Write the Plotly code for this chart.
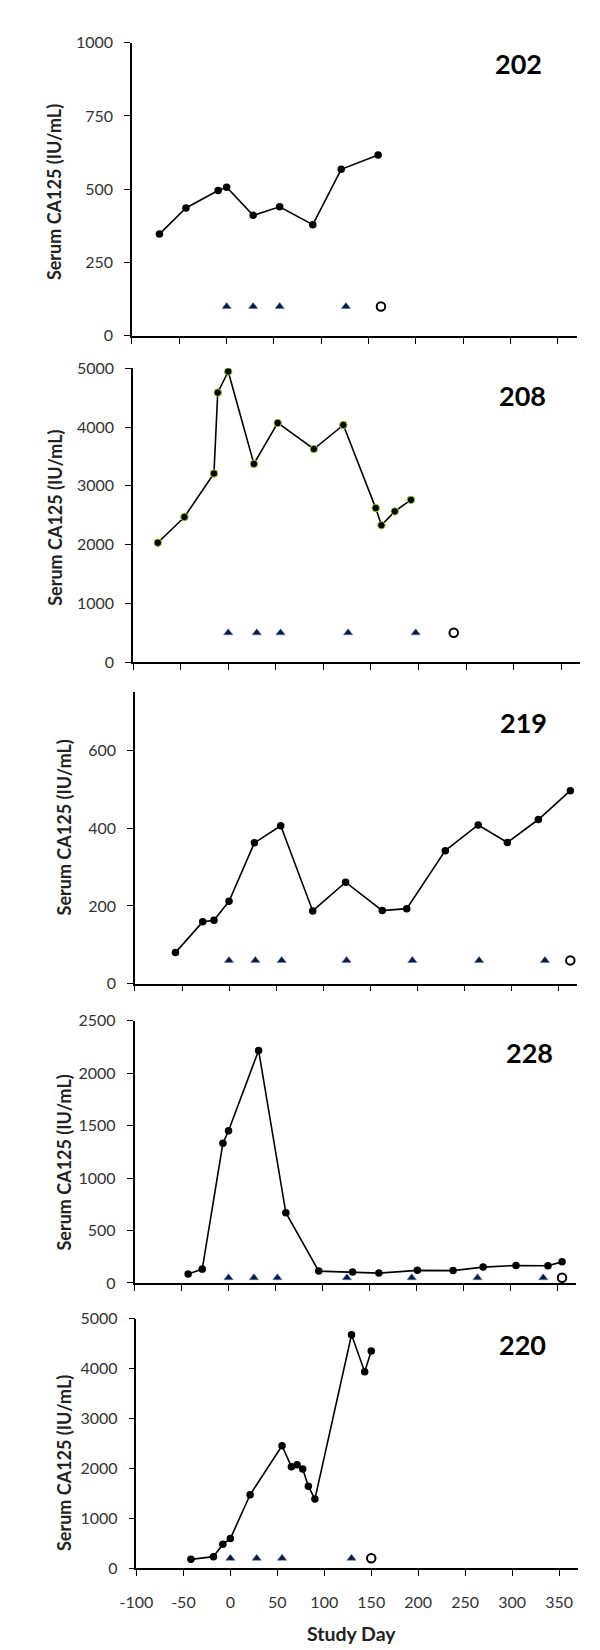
import plotly.graph_objects as go

# ---------------- data ----------------
patients = ["202", "208", "219", "228", "220"]

day_202 = [-71, -43, -9, 0, 28, 56, 91, 121, 160]
ca_202 = [347, 436, 496, 507, 411, 440, 379, 568, 617]
trt_day_202 = [0, 28, 56, 126]
trt_val_202 = [100, 100, 100, 100]
end_day_202 = [163]
end_val_202 = [100]

day_208 = [-74, -46, -15, -11, 0, 27, 52, 90, 121, 155, 161, 175, 192]
ca_208 = [2032, 2470, 3210, 4585, 4944, 3373, 4069, 3626, 4035, 2621, 2330, 2565, 2761]
trt_day_208 = [0, 30, 55, 126, 197]
trt_val_208 = [500, 500, 500, 500, 500]
end_day_208 = [237]
end_val_208 = [500]

day_219 = [-57, -28, -16, 0, 27, 55, 89, 124, 163, 189, 230, 265, 296, 329, 363]
ca_219 = [80, 159, 163, 212, 362, 406, 187, 261, 188, 193, 342, 408, 363, 422, 496]
trt_day_219 = [0, 28, 56, 125, 195, 266, 336]
trt_val_219 = [60, 60, 60, 60, 60, 60, 60]
end_day_219 = [363]
end_val_219 = [60]

day_228 = [-43, -28, -6, 0, 32, 61, 96, 132, 160, 201, 239, 271, 306, 340, 355]
ca_228 = [85, 132, 1331, 1450, 2216, 669, 113, 104, 94, 120, 118, 151, 167, 164, 201]
trt_day_228 = [0, 27, 52, 126, 195, 265, 335]
trt_val_228 = [50, 50, 50, 50, 50, 50, 50]
end_day_228 = [355]
end_val_228 = [50]

day_220 = [-42, -18, -8, 0, 21, 55, 65, 71, 77, 83, 90, 129, 143, 150]
ca_220 = [178, 232, 483, 594, 1473, 2455, 2034, 2073, 1988, 1644, 1386, 4681, 3941, 4356]
trt_day_220 = [0, 28, 55, 129]
trt_val_220 = [200, 200, 200, 200]
end_day_220 = [150]
end_val_220 = [200]

y_max = [1000, 5000, 750, 2500, 5000]
y_ticks = [[0, 250, 500, 750, 1000],
           [0, 1000, 2000, 3000, 4000, 5000],
           [0, 200, 400, 600],
           [0, 500, 1000, 1500, 2000, 2500],
           [0, 1000, 2000, 3000, 4000, 5000]]
x_ticks = [-100, -50, 0, 50, 100, 150, 200, 250, 300, 350]
x_title = "Study Day"
y_title = "Serum CA125 (IU/mL)"

series = [
    (day_202, ca_202, trt_day_202, trt_val_202, end_day_202, end_val_202),
    (day_208, ca_208, trt_day_208, trt_val_208, end_day_208, end_val_208),
    (day_219, ca_219, trt_day_219, trt_val_219, end_day_219, end_val_219),
    (day_228, ca_228, trt_day_228, trt_val_228, end_day_228, end_val_228),
    (day_220, ca_220, trt_day_220, trt_val_220, end_day_220, end_val_220),
]

# ---------------- layout geometry (pixels) ----------------
W, H = 600, 1650
x_px = [(110.1, 568.0), (111.2, 571.5), (113.2, 568.0), (112.8, 567.2), (114.7, 569.0)]
y_px = [(25.0, 321.5), (354.3, 651.7), (681.7, 977.0), (1014.3, 1279.7), (1316.0, 1568.3)]
label_px = [(508, 46), (512, 382), (513, 713), (519, 1047), (512, 1342)]
ytitle_px = [(30, 176), (31.5, 506), (40, 819), (40, 1158), (40, 1462)]

FONT = "Lato, Calibri, Arial, sans-serif"
TICKFONT = dict(family=FONT, size=16, color="#333333")

fig = go.Figure()
layout = dict(
    width=W, height=H,
    margin=dict(l=0, r=0, t=0, b=0),
    paper_bgcolor="white", plot_bgcolor="white",
    showlegend=False,
    font=dict(family=FONT, color="#333333", size=16),
)
annotations = []

for i, (dx, dy, tx, ty, ex, ey) in enumerate(series):
    n = i + 1
    xa = "x" if n == 1 else f"x{n}"
    ya = "y" if n == 1 else f"y{n}"
    edge = "#9ACD32" if n == 2 else "black"
    fig.add_trace(go.Scatter(
        x=dx, y=dy, mode="lines+markers", xaxis=xa, yaxis=ya,
        line=dict(color="black", width=1.6),
        marker=dict(symbol="circle", size=7.5, color="black",
                    line=dict(color=edge, width=1 if n == 2 else 0)),
    ))
    fig.add_trace(go.Scatter(
        x=tx, y=ty, mode="markers", xaxis=xa, yaxis=ya,
        marker=dict(symbol="triangle-up", size=8, color="#0B1A3C",
                    line=dict(color="#4A78BE", width=0.6)),
    ))
    fig.add_trace(go.Scatter(
        x=ex, y=ey, mode="markers", xaxis=xa, yaxis=ya,
        marker=dict(symbol="circle", size=8.5, color="white",
                    line=dict(color="black", width=2)),
    ))

    l, r = x_px[i]
    t, b = y_px[i]
    layout["xaxis" if n == 1 else f"xaxis{n}"] = dict(
        domain=[l / W, r / W], anchor=ya, range=[-100, 370],
        tickmode="array", tickvals=x_ticks,
        ticktext=[str(v) for v in x_ticks],
        showticklabels=(n == 5), ticks="outside", ticklen=6, tickwidth=1.2,
        tickcolor="black", showline=True, linecolor="black", linewidth=1.5,
        showgrid=False, zeroline=False, ticklabelstandoff=13,
        tickfont=TICKFONT,
    )
    layout["yaxis" if n == 1 else f"yaxis{n}"] = dict(
        domain=[1 - b / H, 1 - t / H], anchor=xa, range=[0, y_max[i]],
        tickmode="array", tickvals=y_ticks[i],
        ticks="outside", ticklen=6, tickwidth=1.2, tickcolor="black",
        showline=True, linecolor="black", linewidth=1.5,
        showgrid=False, zeroline=False, ticklabelstandoff=8,
        tickfont=TICKFONT,
    )
    lx, ly = label_px[i]
    annotations.append(dict(
        text=f"<b>{patients[i]}</b>", x=lx / W, y=1 - ly / H,
        xref="paper", yref="paper", xanchor="center", yanchor="middle",
        showarrow=False, font=dict(family=FONT, size=27, color="black"),
    ))
    tx_, ty_ = ytitle_px[i]
    annotations.append(dict(
        text=f"<b>{y_title}</b>", x=tx_ / W, y=1 - ty_ / H,
        xref="paper", yref="paper", xanchor="center", yanchor="middle",
        textangle=-90, showarrow=False,
        font=dict(family=FONT, size=18, color="#222222"),
    ))

annotations.append(dict(
    text=f"<b>{x_title}</b>", x=336 / W, y=1 - 1634 / H,
    xref="paper", yref="paper", xanchor="center", yanchor="middle",
    showarrow=False, font=dict(family=FONT, size=19.5, color="#222222"),
))
layout["annotations"] = annotations
fig.update_layout(**layout)
fig.write_html("out.html")
